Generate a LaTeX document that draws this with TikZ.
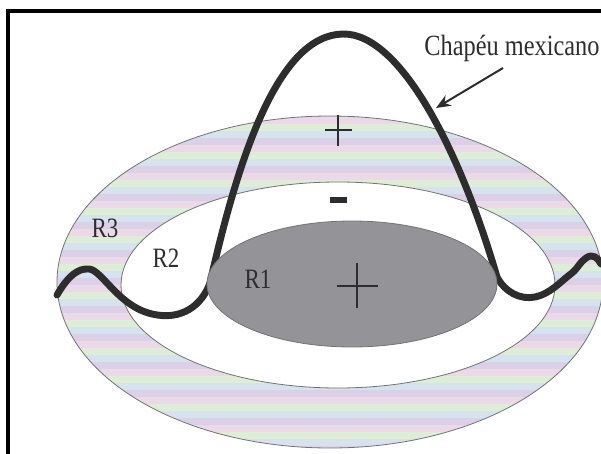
\documentclass[tikz,border=0pt]{standalone}
\usepackage{fontspec}
\setmainfont{Liberation Serif}
\usetikzlibrary{arrows.meta}
\definecolor{hatgray}{RGB}{45,45,45}
\definecolor{ringedge}{RGB}{115,115,115}
\definecolor{rone}{RGB}{148,148,152}
\definecolor{lav}{RGB}{220,208,233}
\definecolor{pnk}{RGB}{235,217,231}
\definecolor{mnt}{RGB}{222,237,216}
\definecolor{sky}{RGB}{214,226,238}

\begin{document}
\begin{tikzpicture}[x=0.75pt,y=0.75pt,yscale=-1,xscale=1,
    hatline/.style={draw=hatgray,line width=5.2pt,line cap=round,line join=round},
    ringline/.style={draw=ringedge,line width=0.6pt},
    signline/.style={draw=hatgray,line width=1.1pt},
    rlabel/.style={text=hatgray,font=\fontsize{21}{21}\selectfont,xscale=0.82,inner sep=0pt,anchor=base}]
				\useasboundingbox (0,0) rectangle (601,454);
				
				%Frame
				\draw [line width=2.3pt] (601,11) -- (8,11) -- (8,454) ;
				
				%Striped band R3
				\begin{scope}[even odd rule]
				\clip (330,282) ellipse [x radius=273,y radius=166] (338,285) ellipse [x radius=217,y radius=103] ;
				\foreach \y in {110,138,...,450} {
					\fill [lav] (50,\y) rectangle (610,\y+7) ;
					\fill [pnk] (50,\y+7) rectangle (610,\y+14) ;
					\fill [mnt] (50,\y+14) rectangle (610,\y+21) ;
					\fill [sky] (50,\y+21) rectangle (610,\y+28) ;
				}
				\end{scope}
				%Ellipses: outer and inner borders of R3
				\draw [ringline] (330,282) ellipse [x radius=273,y radius=166] ;
				\draw [ringline] (338,285) ellipse [x radius=217,y radius=103] ;
				
				%Mexican hat curve
				\draw [hatline] (57,295) .. controls (68,276) and (78,268) .. (89,269) .. controls (102,270) and (118,306) .. (152,314) .. controls (182,321) and (202,305) .. (210,283) .. controls (240,150) and (280,35) .. (343,34) .. controls (400,33) and (460,150) .. (497,277) .. controls (505,292) and (520,300) .. (535,297) .. controls (550,294) and (560,282) .. (572,273) .. controls (578,268) and (580,262) .. (586,258) .. controls (593,253) and (598,258) .. (601,264) ;
				
				%Ellipse R1
				\draw [fill=rone,draw=ringedge,line width=0.6pt] (352,284) ellipse [x radius=145,y radius=63] ;
				
				%Signs
				\draw [signline] (325,130) -- (352,130) (338,115) -- (338,146) ;
				\draw [draw=hatgray,line width=4.2pt] (330,200) -- (347,200) ;
				\draw [signline] (337,286) -- (378,286) (357,263) -- (357,308) ;
				
				% Text Node
				\draw (105,237) node (rthree) [rlabel] {R3};
				% Text Node
				\draw (166,267) node (rtwo) [rlabel] {R2};
				% Text Node
				\draw (258,288) node (rone) [rlabel] {R1};
				% Text Node
				\draw (512,55) node (hatlbl) [text=hatgray,font=\fontsize{22}{22}\selectfont,xscale=0.83,inner sep=0pt,anchor=base] {Chapéu mexicano};
				
				%Arrow
				\coordinate (tail) at (503,68) ;
				\coordinate (tip) at (436,108) ;
				\draw [draw=hatgray,line width=1.5pt,-{Stealth[length=11pt,width=9pt]}] (tail) -- (tip) ;
				
\end{tikzpicture}
\end{document}
